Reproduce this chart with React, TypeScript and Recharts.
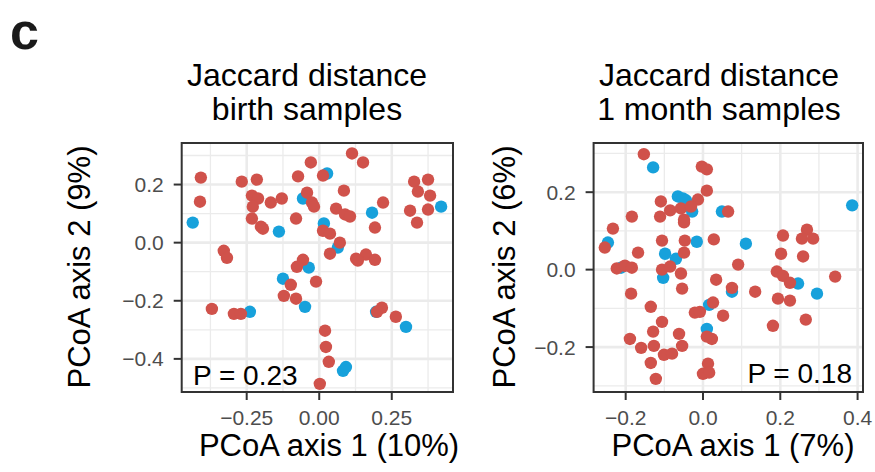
import React from 'react';
import { ScatterChart, Scatter, XAxis, YAxis, CartesianGrid, ReferenceArea } from 'recharts';

type Pt = [number, number];

const birthRed: Pt[] = [
  [-0.408, 0.224], [-0.411, 0.141], [-0.267, 0.21], [-0.215, 0.217], [-0.232, 0.162], [-0.211, 0.152],
  [-0.229, 0.124], [-0.167, 0.138], [-0.129, 0.152], [-0.232, 0.083], [-0.201, 0.055], [-0.194, 0.048],
  [-0.08, 0.083], [-0.073, 0.228], [-0.029, 0.276], [-0.042, 0.172], [-0.025, 0.138], [-0.018, 0.124],
  [-0.329, -0.028], [-0.318, -0.052], [-0.056, -0.059], [-0.077, -0.083], [0.113, 0.307], [0.151, 0.276],
  [0.013, 0.231], [0.085, 0.179], [0.058, 0.117], [0.089, 0.097], [0.106, 0.09], [0.22, 0.138],
  [0.192, 0.052], [0.013, 0.041], [0.037, 0.031], [0.071, 0.0], [0.037, -0.038], [0.127, -0.055],
  [0.161, -0.041], [0.192, -0.059], [0.133, -0.062], [0.327, 0.21], [0.375, 0.217], [0.34, 0.176],
  [0.382, 0.162], [0.313, 0.11], [0.375, 0.114], [0.337, 0.069], [-0.098, -0.145], [-0.122, -0.183],
  [-0.08, -0.193], [-0.011, -0.134], [-0.37, -0.228], [-0.294, -0.245], [-0.27, -0.245], [0.216, -0.224],
  [0.199, -0.238], [0.264, -0.255], [0.02, -0.303], [0.023, -0.359], [0.033, -0.41], [0.002, -0.486],
];

const birthBlue: Pt[] = [
  [-0.436, 0.069], [-0.139, 0.038], [-0.056, 0.152], [-0.036, -0.086], [0.027, 0.238], [0.182, 0.103],
  [0.016, 0.066], [0.064, -0.017], [-0.125, -0.124], [-0.049, -0.221], [-0.239, -0.238], [0.196, -0.238],
  [0.299, -0.29], [0.082, -0.441], [0.092, -0.428], [0.42, 0.124],
];

const monthRed: Pt[] = [
  [-0.153, 0.298], [-0.003, 0.266], [0.01, 0.259], [0.01, 0.204], [-0.013, 0.181], [-0.109, 0.176],
  [-0.085, 0.153], [-0.057, 0.158], [-0.031, 0.163], [-0.184, 0.137], [-0.111, 0.137], [-0.049, 0.129],
  [-0.049, 0.122], [-0.233, 0.106], [-0.254, 0.057], [-0.106, 0.075], [-0.047, 0.075], [0.028, 0.078],
  [-0.168, 0.044], [-0.049, 0.044], [-0.223, 0.003], [-0.202, 0.01], [-0.184, 0.005], [-0.106, 0.0],
  [-0.085, 0.008], [-0.057, -0.01], [-0.054, -0.049], [0.034, -0.026], [-0.186, -0.062], [-0.135, -0.096],
  [-0.106, -0.135], [-0.129, -0.16], [-0.062, -0.166], [-0.021, -0.111], [-0.008, -0.109], [0.026, -0.085],
  [0.023, -0.179], [0.01, -0.173], [-0.189, -0.179], [-0.16, -0.202], [-0.127, -0.197], [-0.054, -0.197],
  [-0.101, -0.22], [-0.08, -0.217], [-0.135, -0.241], [0.013, -0.243], [0.0, -0.269], [0.016, -0.266],
  [-0.122, -0.282], [0.052, -0.119], [0.065, 0.15], [0.207, 0.088], [0.269, 0.103], [0.256, 0.08],
  [0.285, 0.08], [0.202, 0.041], [0.259, 0.034], [0.091, 0.013], [0.191, -0.005], [0.207, -0.016],
  [0.225, -0.034], [0.342, -0.018], [0.075, -0.047], [0.135, -0.057], [0.194, -0.075], [0.225, -0.08],
  [0.181, -0.145], [0.266, -0.129],
];

const monthBlue: Pt[] = [
  [-0.129, 0.264], [-0.065, 0.189], [-0.052, 0.184], [-0.044, 0.179], [-0.028, 0.15], [0.049, 0.15],
  [-0.246, 0.07], [-0.016, 0.072], [-0.098, 0.041], [-0.07, 0.028], [-0.212, 0.005], [-0.103, -0.021],
  [0.016, -0.091], [0.01, -0.153], [0.386, 0.166], [0.111, 0.067], [0.246, -0.036], [0.295, -0.062],
  [0.075, -0.057],
];

const birthXTicks = [-0.25, 0, 0.25];
const birthXMinor = [-0.375, -0.125, 0.125, 0.375];
const birthYTicks = [-0.4, -0.2, 0, 0.2];
const birthYMinor = [-0.5, -0.3, -0.1, 0.1, 0.3];
const monthXTicks = [-0.2, 0, 0.2, 0.4];
const monthXMinor = [-0.1, 0.1, 0.3];
const monthYTicks = [-0.2, 0, 0.2];
const monthYMinor = [-0.3, -0.1, 0.1, 0.3];

const birthXDomain: [number, number] = [-0.474, 0.461];
const birthYDomain: [number, number] = [-0.514, 0.343];
const monthXDomain: [number, number] = [-0.283, 0.414];
const monthYDomain: [number, number] = [-0.316, 0.327];

const RED = '#D0524B';
const BLUE = '#17A1DB';
const FONT = '"Liberation Sans", Arial, Helvetica, sans-serif';

const fmt = (d: number) => (v: number) => (v < 0 ? '\u2212' : '') + Math.abs(v).toFixed(d);
const toObj = (pts: Pt[]) => pts.map(([x, y]) => ({ x, y }));
const dot = (color: string) => (p: any) => <circle cx={p.cx} cy={p.cy} r={6.2} fill={color} />;

type PanelProps = {
  plotLeft: number;
  plotRight: number;
  xDomain: [number, number];
  yDomain: [number, number];
  xTicks: number[];
  xMinor: number[];
  yTicks: number[];
  yMinor: number[];
  xDigits: number;
  red: Pt[];
  blue: Pt[];
};

function Panel(p: PanelProps) {
  const tickStyle = { fill: '#4d4d4d', fontSize: 21, fontFamily: FONT };
  const tickLine = { stroke: '#333333', strokeWidth: 2 };
  return (
    <div style={{ position: 'absolute', left: 0, top: 0 }}>
      <ScatterChart
        width={875}
        height={472}
        margin={{ top: 143, right: 875 - p.plotRight, bottom: 40, left: p.plotLeft - 60 }}
      >
        <CartesianGrid stroke="#ebebeb" strokeWidth={1.3} verticalValues={p.xMinor} horizontalValues={p.yMinor} />
        <CartesianGrid stroke="#ebebeb" strokeWidth={2.6} verticalValues={p.xTicks} horizontalValues={p.yTicks} />
        <XAxis
          type="number"
          dataKey="x"
          domain={p.xDomain}
          allowDataOverflow
          ticks={p.xTicks}
          interval={0}
          tickFormatter={fmt(p.xDigits)}
          tick={tickStyle}
          tickLine={tickLine}
          axisLine={false}
          tickSize={8}
          tickMargin={10}
          height={40}
        />
        <YAxis
          type="number"
          dataKey="y"
          domain={p.yDomain}
          allowDataOverflow
          ticks={p.yTicks}
          interval={0}
          tickFormatter={fmt(1)}
          tick={tickStyle}
          tickLine={tickLine}
          axisLine={false}
          tickSize={8}
          tickMargin={10}
          width={60}
        />
        <Scatter data={toObj(p.blue)} isAnimationActive={false} shape={dot(BLUE)} />
        <Scatter data={toObj(p.red)} isAnimationActive={false} shape={dot(RED)} />
        <ReferenceArea
          x1={p.xDomain[0]}
          x2={p.xDomain[1]}
          y1={p.yDomain[0]}
          y2={p.yDomain[1]}
          fill="none"
          stroke="#333333"
          strokeWidth={2}
          ifOverflow="visible"
        />
      </ScatterChart>
    </div>
  );
}

export default function App() {
  return (
    <div style={{ position: 'absolute', left: 0, top: 0, width: 875, height: 472, background: '#ffffff', overflow: 'hidden' }}>
      <Panel
        plotLeft={181.7}
        plotRight={453}
        xDomain={birthXDomain}
        yDomain={birthYDomain}
        xTicks={birthXTicks}
        xMinor={birthXMinor}
        yTicks={birthYTicks}
        yMinor={birthYMinor}
        xDigits={2}
        red={birthRed}
        blue={birthBlue}
      />
      <Panel
        plotLeft={593.6}
        plotRight={863}
        xDomain={monthXDomain}
        yDomain={monthYDomain}
        xTicks={monthXTicks}
        xMinor={monthXMinor}
        yTicks={monthYTicks}
        yMinor={monthYMinor}
        xDigits={1}
        red={monthRed}
        blue={monthBlue}
      />
      <svg
        width={875}
        height={472}
        style={{ position: 'absolute', left: 0, top: 0, pointerEvents: 'none' }}
        fontFamily={FONT}
      >
        <text x={10} y={49} fontSize={52} fontWeight="bold" fill="#1a1a1a">c</text>
        <text x={307} y={86} fontSize={32} textAnchor="middle" fill="#000">Jaccard distance</text>
        <text x={307} y={120} fontSize={32} textAnchor="middle" fill="#000">birth samples</text>
        <text x={719} y={86} fontSize={32} textAnchor="middle" fill="#000">Jaccard distance</text>
        <text x={719} y={120} fontSize={32} textAnchor="middle" fill="#000">1 month samples</text>
        <text x={329} y={456} fontSize={31} textAnchor="middle" fill="#000">PCoA axis 1 (10%)</text>
        <text x={733} y={456} fontSize={31} textAnchor="middle" fill="#000">PCoA axis 1 (7%)</text>
        <text x={90} y={267} fontSize={31} textAnchor="middle" fill="#000" transform="rotate(-90 90 267)">PCoA axis 2 (9%)</text>
        <text x={515} y={267} fontSize={31} textAnchor="middle" fill="#000" transform="rotate(-90 515 267)">PCoA axis 2 (6%)</text>
        <text x={193} y={385} fontSize={28} fill="#000">P = 0.23</text>
        <text x={852} y={383} fontSize={28} textAnchor="end" fill="#000">P = 0.18</text>
      </svg>
    </div>
  );
}
